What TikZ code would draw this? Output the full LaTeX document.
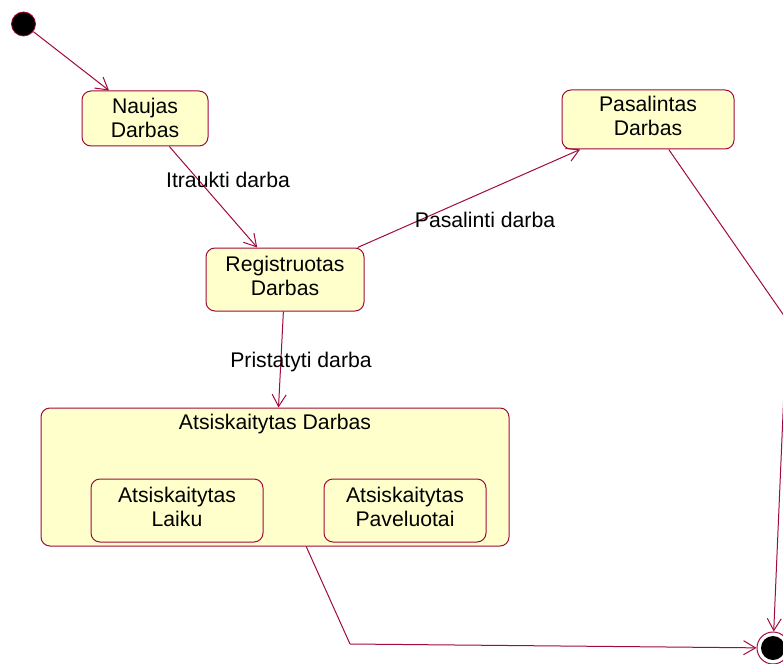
\documentclass[tikz,border=0pt]{standalone}
\usepackage{fontspec}
\setmainfont{Liberation Sans}
\usetikzlibrary{arrows.meta}
\definecolor{edgeline}{RGB}{160,10,60}
\definecolor{statefill}{RGB}{255,255,204}
\begin{document}
\begin{tikzpicture}[x=1pt,y=-1pt,
  every node/.style={font=\fontsize{21.2}{24}\selectfont},
  statebox/.style={draw=edgeline, fill=statefill, line width=1pt,
    rounded corners=9pt, inner sep=0pt, align=center},
  raised/.style={text depth=8pt},
  trans/.style={draw=edgeline, line width=1pt,
    -{Straight Barb[length=12pt,width=14pt,line width=1pt]}},
  plain/.style={draw=edgeline, line width=1pt},
  lbl/.style={inner sep=0pt, anchor=center}]
  \useasboundingbox (0,0) rectangle (783,663);
  \clip (0,0) rectangle (783,663);

  % initial and final pseudo-states
  \node[circle, fill=black, draw=edgeline, line width=0.8pt,
        minimum size=24pt, inner sep=0pt] (start) at (23.5,24) {};
  \node[circle, fill=white, draw=edgeline, line width=1pt,
        minimum size=32pt, inner sep=0pt] (final) at (773,648) {};
  \fill[black] (final.center) circle (12pt);

  % simple states
  \node[statebox, text depth=2pt, minimum width=126pt, minimum height=55pt] (naujas)
    at (145,118.5) {Naujas\\Darbas};
  \node[statebox, raised, minimum width=172pt, minimum height=59pt] (pasalintas)
    at (648,119.5) {Pasalintas\\Darbas};
  \node[statebox, raised, minimum width=158pt, minimum height=63pt] (registruotas)
    at (285,279.5) {Registruotas\\Darbas};

  % composite state with its two substates
  \node[statebox, minimum width=468pt, minimum height=138pt,
        label={[anchor=north, inner sep=0pt, yshift=-6pt]north:Atsiskaitytas Darbas}]
    (atsiskaitytas) at (275,477) {};
  \node[statebox, raised, minimum width=172pt, minimum height=63pt] (laiku)
    at (177,510.5) {Atsiskaitytas\\Laiku};
  \node[statebox, raised, minimum width=162pt, minimum height=63pt] (paveluotai)
    at (405,510.5) {Atsiskaitytas\\Paveluotai};

  % bend points of the routed transitions
  \coordinate (bendR) at (787,320);
  \coordinate (bendB) at (350,644);

  % transitions
  \draw[trans] (start) -- (naujas);
  \draw[trans] (naujas) -- (registruotas);
  \draw[trans] (registruotas) -- (pasalintas);
  \draw[trans] (registruotas) -- (atsiskaitytas);
  \draw[plain] (pasalintas) -- (bendR);
  \draw[trans] (bendR) -- (final);
  \draw[plain] (atsiskaitytas) -- (bendB);
  \draw[trans] (bendB) -- (final);

  % transition labels
  \node[lbl] (lblItraukti) at (228,180) {Itraukti darba};
  \node[lbl] (lblPasalinti) at (485,220) {Pasalinti darba};
  \node[lbl] (lblPristatyti) at (301,362) {Pristatyti darba};
\end{tikzpicture}
\end{document}
